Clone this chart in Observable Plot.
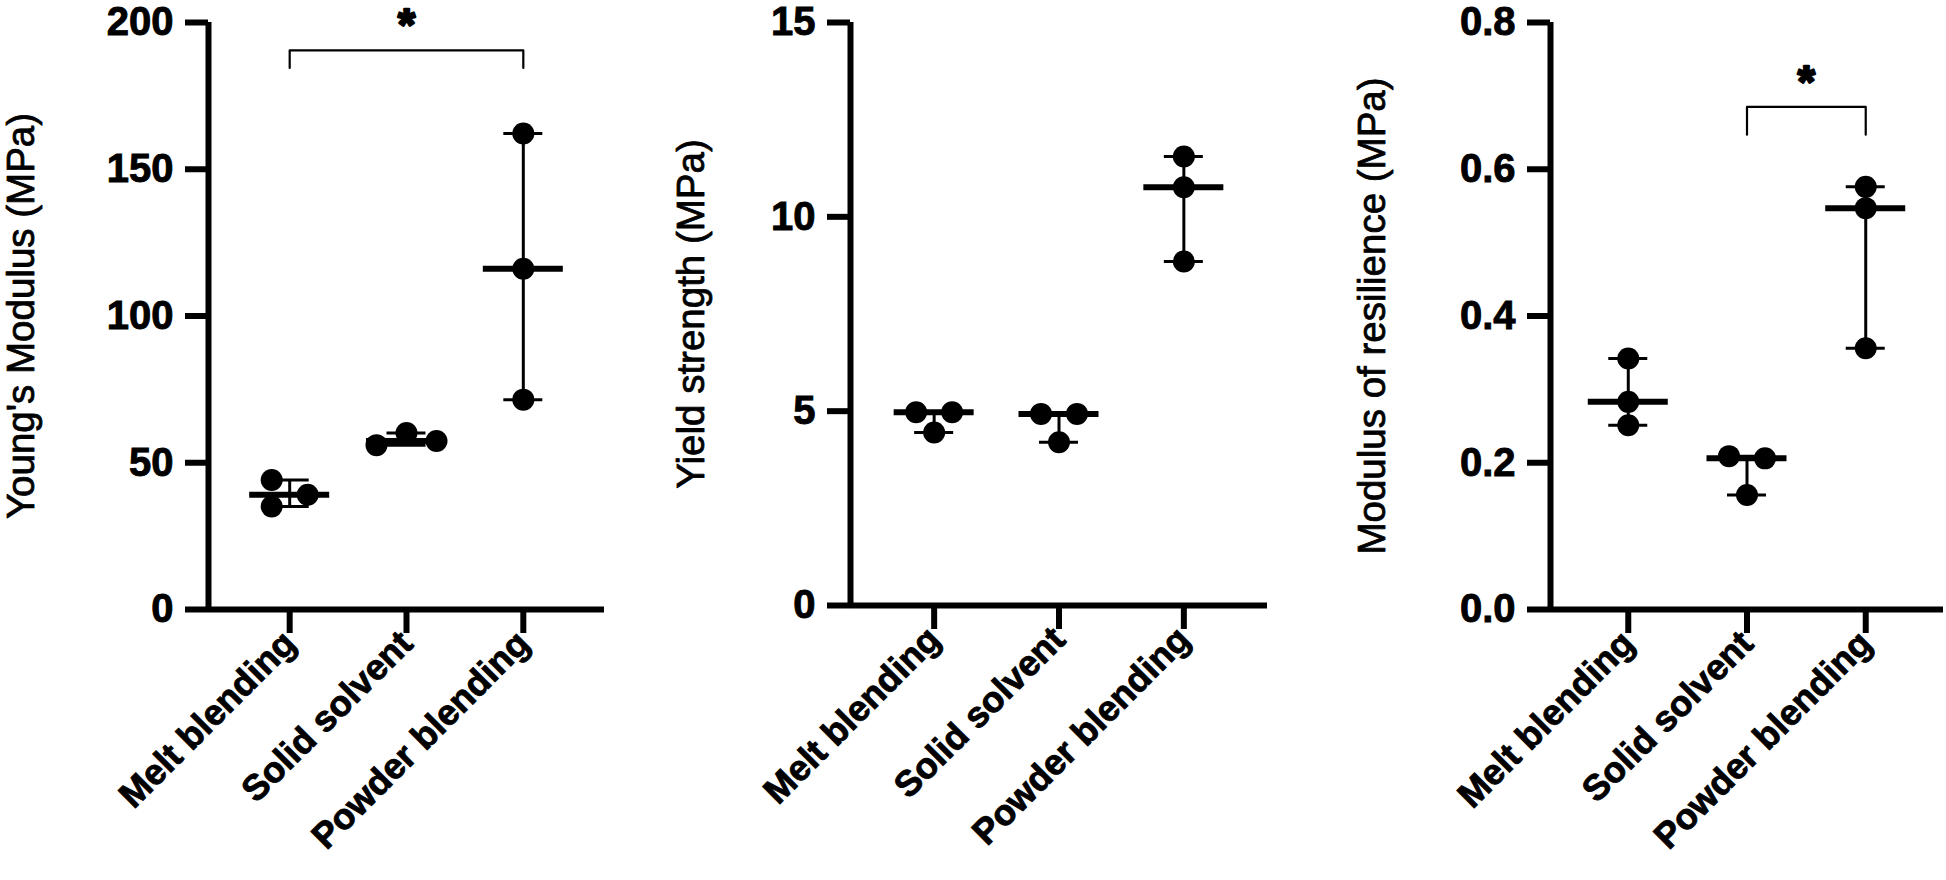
<!DOCTYPE html>
<html><head><meta charset="utf-8">
<script src="https://cdn.jsdelivr.net/npm/d3@7"></script>
<script src="https://cdn.jsdelivr.net/npm/@observablehq/plot@0.6"></script>
<style>
html,body{margin:0;padding:0;background:#fff;}
#wrap{position:relative;width:1946px;height:880px;overflow:hidden;background:#fff;}
#wrap svg{position:absolute;top:0;}
#wrap g[aria-label="y-axis tick label"] text,
#wrap g[aria-label="x-axis tick label"] text{stroke:black;stroke-width:0.9px;}
</style></head><body><div id="wrap"></div>
<script>
// ---------- data ----------
const categories = ["Melt blending", "Solid solvent", "Powder blending"];

// three replicate values per category, in category order
const youngsModulus = [[44.1, 35.1, 39.1], [56.0, 60.1, 57.4], [162.2, 116.1, 71.5]];
const yieldStrength = [[4.97, 4.97, 4.45], [4.93, 4.93, 4.20], [11.55, 10.76, 8.85]];
const resilience = [[0.342, 0.283, 0.251], [0.209, 0.206, 0.156], [0.576, 0.547, 0.356]];

const youngTicks = [0, 50, 100, 150, 200];
const yieldTicks = [0, 5, 10, 15];
const resilienceTicks = [0, 0.2, 0.4, 0.6, 0.8];

const yLabels = ["Young's Modulus (MPa)", "Yield strength (MPa)", "Modulus of resilience (MPa)"];

// significance brackets: between two categories, bar height and leg depth in data units
const youngBrackets = [{from: "Melt blending", to: "Powder blending", y: 190.5, drop: 6, label: "*"}];
const yieldBrackets = [];
const resilienceBrackets = [{from: "Solid solvent", to: "Powder blending", y: 0.685, drop: 0.038, label: "*"}];

// ---------- layout / style ----------
const FONT = "'Liberation Sans', Arial, Helvetica, sans-serif";
const panels = [
  {values: youngsModulus, ticks: youngTicks, label: yLabels[0], brackets: youngBrackets, fmt: d3.format("d"),
   left: 0, width: 640, mL: 208, mR: 36, mT: 22, mB: 271, pad: 0.695, labelBase: 33},
  {values: yieldStrength, ticks: yieldTicks, label: yLabels[1], brackets: yieldBrackets, fmt: d3.format("d"),
   left: 640, width: 660, mL: 210, mR: 33, mT: 22, mB: 275, pad: 0.67, labelBase: 63},
  {values: resilience, ticks: resilienceTicks, label: yLabels[2], brackets: resilienceBrackets, fmt: d3.format(".1f"),
   left: 1300, width: 646, mL: 250, mR: 3, mT: 22, mB: 271, pad: 0.655, labelBase: 84}
];

// spread overlapping dots horizontally (computed in pixel space from the y scale)
function dodgeRender(index, scales, values, dimensions, context, next) {
  const X = values.x, Y = values.y;
  const NX = Float64Array.from(X);
  const T = 18, S2 = 36, S3 = 30;
  const groups = d3.group(index, i => Math.round(X[i]));
  for (const [, idx] of groups) {
    const order = idx.slice().sort((a, b) => (Y[a] - Y[b]) || (a - b));
    const comps = [];
    let cur = [order[0]];
    for (let k = 1; k < order.length; k++) {
      if (Y[order[k]] - Y[order[k - 1]] < T) cur.push(order[k]);
      else { comps.push(cur); cur = [order[k]]; }
    }
    comps.push(cur);
    for (const comp of comps) {
      const cols = [];
      const colOf = new Map();
      for (const i of comp) {
        let c = 0;
        while ((cols[c] || []).some(j => Math.abs(Y[j] - Y[i]) < T)) c++;
        (cols[c] = cols[c] || []).push(i);
        colOf.set(i, c);
      }
      const n = cols.length;
      for (const i of comp) {
        const c = colOf.get(i);
        let off = 0;
        if (n === 2) off = (c === 0 ? -0.5 : 0.5) * S2;
        else if (n >= 3) off = [0, 1, -1, 2, -2][c] * S3;
        NX[i] = X[i] + off;
      }
    }
  }
  return next(index, scales, {...values, x: NX}, dimensions, context);
}

const wrap = document.getElementById("wrap");

for (const p of panels) {
  const points = [];
  p.values.forEach((vals, ci) => vals.forEach(v => points.push({cat: categories[ci], idx: ci, v})));
  const stats = p.values.map((vals, ci) => ({
    idx: ci, median: d3.median(vals), min: d3.min(vals), max: d3.max(vals)
  }));
  const bracketLines = [];
  const stars = [];
  p.brackets.forEach((b, bi) => {
    const i1 = categories.indexOf(b.from), i2 = categories.indexOf(b.to);
    bracketLines.push({k: bi, x: i1, y: b.y - b.drop}, {k: bi, x: i1, y: b.y}, {k: bi, x: i2, y: b.y}, {k: bi, x: i2, y: b.y - b.drop});
    stars.push({x: (i1 + i2) / 2, y: b.y, label: b.label});
  });
  const xDom = [-p.pad, categories.length - 1 + p.pad];
  const yDom = [p.ticks[0], p.ticks[p.ticks.length - 1]];

  const chart = Plot.plot({
    width: p.width, height: 880,
    marginLeft: p.mL, marginRight: p.mR, marginTop: p.mT, marginBottom: p.mB,
    style: {fontFamily: FONT, color: "black", background: "transparent", overflow: "visible"},
    x: {type: "linear", domain: xDom},
    y: {type: "linear", domain: yDom},
    marks: [
      // axis lines
      Plot.ruleX([xDom[0]], {y1: yDom[0], y2: yDom[1], stroke: "black", strokeWidth: 6}),
      Plot.ruleY([yDom[0]], {x1: xDom[0], x2: xDom[1], stroke: "black", strokeWidth: 6}),
      Plot.axisY({ticks: p.ticks, tickFormat: p.fmt, tickSize: 23, tickPadding: 12, strokeWidth: 6,
        fontSize: 40, fontWeight: "bold", label: null}),
      Plot.axisX({ticks: d3.range(categories.length), tickFormat: i => categories[i], tickSize: 24, tickPadding: 4,
        tickRotate: -45, strokeWidth: 6, fontSize: 36, fontWeight: "bold", label: null}),
      // y label
      Plot.text([p.label], {frameAnchor: "left", text: d => d, rotate: -90, textAnchor: "middle", lineAnchor: "middle",
        dx: (p.labelBase - 0.32 * 38.5) - p.mL, fontSize: 38.5, fontWeight: "normal", fill: "black",
        stroke: "black", strokeWidth: 0.8}),
      // range bars
      Plot.ruleX(stats, {x: "idx", y1: "min", y2: "max", stroke: "black", strokeWidth: 3}),
      Plot.ruleY(stats, {y: "min", x1: "idx", x2: "idx", insetLeft: -19.5, insetRight: -19.5, stroke: "black", strokeWidth: 3}),
      Plot.ruleY(stats, {y: "max", x1: "idx", x2: "idx", insetLeft: -19.5, insetRight: -19.5, stroke: "black", strokeWidth: 3}),
      // data points
      Plot.dot(points, {x: "idx", y: "v", r: 11, fill: "black", stroke: "none", render: dodgeRender}),
      // median
      Plot.ruleY(stats, {y: "median", x1: "idx", x2: "idx", insetLeft: -40, insetRight: -40, stroke: "black", strokeWidth: 6}),
      // significance
      Plot.line(bracketLines, {x: "x", y: "y", z: "k", stroke: "black", strokeWidth: 2.2}),
      Plot.text(stars, {x: "x", y: "y", text: "label", dy: -24, fontSize: 44, fontWeight: "bold", fill: "black",
        stroke: "black", strokeWidth: 2.6, strokeLinejoin: "round", lineAnchor: "middle"})
    ]
  });
  chart.style.left = p.left + "px";
  wrap.appendChild(chart);
}
</script>
</body></html>
